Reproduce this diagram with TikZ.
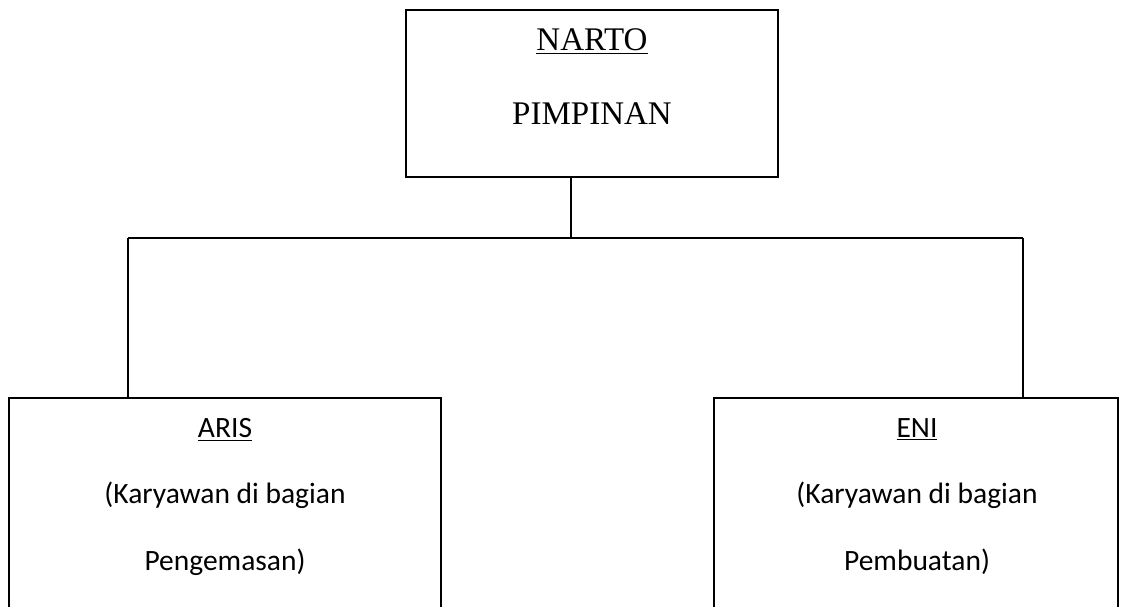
\documentclass[tikz,border=0pt]{standalone}
\usepackage{fontspec}
\setmainfont{Liberation Serif}
\newfontfamily\calibri{Carlito}
\usetikzlibrary{positioning}

\begin{document}
\begin{tikzpicture}[
                x=0.5pt, y=-0.5pt,
                box/.style={draw,line width=0.9pt,inner sep=0pt},
                headtext/.style={inner sep=0pt,anchor=base,font=\fontsize{16.5}{19}\selectfont},
                stafftext/.style={inner sep=0pt,anchor=base,font=\calibri\fontsize{14.75}{17}\selectfont}
            ]
                \path[use as bounding box,clip] (0,0) rectangle (1122,606);
                \node (narto) [box,minimum width=186pt,minimum height=83.5pt] at (592,93.5) {};
                \node (aris) [box,minimum width=216pt,minimum height=120pt,anchor=north] at (225,397) {};
                \node (eni) [box,minimum width=202pt,minimum height=120pt,anchor=north] at (916,397) {};
                \node (nartoName) [headtext] at (592,50) {\underline{NARTO}};
                \node (nartoRole) [headtext] at (592,124) {PIMPINAN};
                \node (arisName) [stafftext] at (225,437) {\underline{ARIS}};
                \node (arisRole) [stafftext] at (225,503) {(Karyawan di bagian};
                \node (arisPart) [stafftext] at (225,570) {Pengemasan)};
                \node (eniName) [stafftext] at (917,437) {\underline{ENI}};
                \node (eniRole) [stafftext] at (917,503) {(Karyawan di bagian};
                \node (eniPart) [stafftext] at (917,570) {Pembuatan)};
                \coordinate (fork) at (571,238);
                \coordinate (forkL) at (128,238);
                \coordinate (forkR) at (1023,238);
                \draw[line width=0.65pt] (fork |- narto.south) -- (fork);
                \draw[line width=0.65pt] (forkL) -- (forkR);
                \draw[line width=0.65pt] (forkL) -- (forkL |- aris.north);
                \draw[line width=0.65pt] (forkR) -- (forkR |- eni.north);
            \end{tikzpicture}
\end{document}
